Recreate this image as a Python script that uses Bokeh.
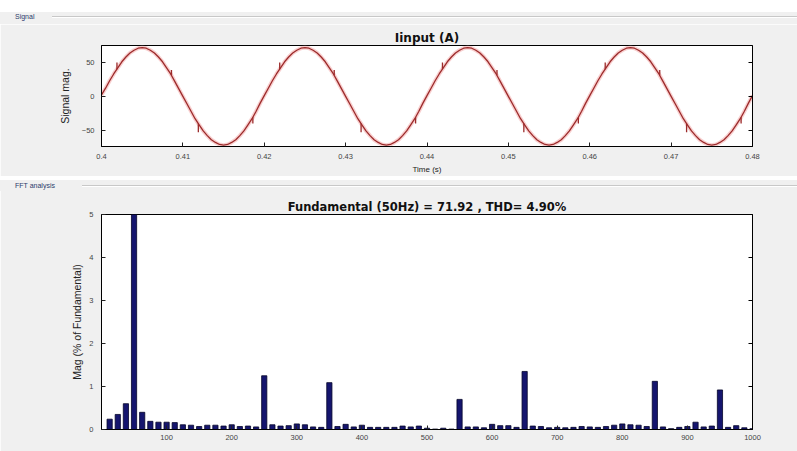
import numpy as np
from bokeh.plotting import figure
from bokeh.models import FixedTicker, LinearAxis, CustomJSTickFormatter, Div, Range1d
from bokeh.layouts import column
from bokeh.embed import file_html
from bokeh.resources import INLINE

# ---------------- data ----------------
# Input current samples (A), every 0.5 ms from 0.40 s to 0.48 s
signal_t_start, signal_t_end = 0.40, 0.48
signal_i = [
    2, 12, 23, 33, 42, 51, 58, 64, 68, 71, 72, 71, 68, 64, 58, 51, 42, 33, 22, 11,
    0, -11, -22, -33, -42, -51, -58, -64, -68, -71, -72, -71, -68, -64, -58, -51, -42, -33, -22, -10,
    1, 12, 23, 33, 42, 51, 58, 64, 68, 71, 72, 71, 68, 64, 58, 51, 42, 33, 22, 11,
    0, -11, -22, -33, -42, -51, -58, -64, -68, -71, -72, -71, -68, -64, -58, -51, -42, -33, -22, -10,
    1, 12, 23, 33, 42, 51, 58, 64, 68, 71, 72, 71, 68, 64, 58, 51, 42, 33, 22, 11,
    0, -11, -22, -33, -42, -51, -58, -64, -68, -71, -72, -71, -68, -64, -58, -51, -42, -33, -22, -10,
    1, 12, 23, 33, 42, 51, 58, 64, 68, 71, 72, 71, 68, 64, 58, 51, 42, 33, 22, 11,
    0, -11, -22, -33, -42, -51, -58, -64, -68, -71, -72, -71, -68, -64, -58, -51, -42, -33, -22, -10,
    1,
]
# commutation notches on the waveform
notch_t = [0.4019, 0.4086, 0.4119, 0.4186, 0.4219, 0.4286, 0.4319, 0.4386,
           0.4419, 0.4486, 0.4519, 0.4586, 0.4619, 0.4686, 0.4719, 0.4786]
notch_from = [40, 31, -40, -31, 40, 31, -40, -31, 40, 31, -40, -31, 40, 31, -40, -31]
notch_to = [50, 39, -53, -40, 50, 39, -53, -40, 50, 39, -53, -40, 50, 39, -53, -40]

time_ticks = [0.40, 0.41, 0.42, 0.43, 0.44, 0.45, 0.46, 0.47, 0.48]
signal_ticks = [-50, 0, 50]

# FFT spectrum (12.5 Hz resolution), magnitude in % of fundamental
fft_freq = [12.5, 25, 37.5, 50, 62.5, 75, 87.5, 100, 112.5, 125, 137.5, 150, 162.5, 175, 187.5, 200,
            212.5, 225, 237.5, 250, 262.5, 275, 287.5, 300, 312.5, 325, 337.5, 350, 362.5, 375, 387.5, 400,
            412.5, 425, 437.5, 450, 462.5, 475, 487.5, 500, 512.5, 525, 537.5, 550, 562.5, 575, 587.5, 600,
            612.5, 625, 637.5, 650, 662.5, 675, 687.5, 700, 712.5, 725, 737.5, 750, 762.5, 775, 787.5, 800,
            812.5, 825, 837.5, 850, 862.5, 875, 887.5, 900, 912.5, 925, 937.5, 950, 962.5, 975, 987.5, 1000]
fft_mag = [0.24, 0.35, 0.60, 100.0, 0.40, 0.19, 0.17, 0.17, 0.16, 0.11, 0.10, 0.07, 0.10, 0.10, 0.08, 0.11,
           0.07, 0.08, 0.06, 1.25, 0.11, 0.08, 0.09, 0.13, 0.11, 0.06, 0.05, 1.09, 0.07, 0.12, 0.06, 0.10,
           0.05, 0.05, 0.05, 0.05, 0.08, 0.06, 0.08, 0.03, 0.01, 0.03, 0.01, 0.70, 0.06, 0.06, 0.04, 0.12,
           0.09, 0.09, 0.05, 1.35, 0.08, 0.07, 0.04, 0.05, 0.04, 0.05, 0.07, 0.06, 0.05, 0.07, 0.10, 0.13,
           0.11, 0.10, 0.07, 1.12, 0.06, 0.02, 0.05, 0.07, 0.17, 0.06, 0.08, 0.92, 0.05, 0.09, 0.04, 0.02]
freq_ticks = [100, 200, 300, 400, 500, 600, 700, 800, 900, 1000]
mag_ticks = [0, 1, 2, 3, 4, 5]

FONT = "Liberation Sans"
TITLE_FONT = "DejaVu Sans"
PANEL = "#f0f0f0"
W = 797


def style_axes(p, xticks, yticks, xfmt=None):
    p.grid.visible = False
    for ax in p.axis:
        ax.major_tick_in = 4
        ax.major_tick_out = 0
        ax.minor_tick_line_color = None
        ax.axis_line_color = "black"
        ax.major_tick_line_color = "#222222"
        ax.major_label_text_font = FONT
        ax.major_label_text_font_size = "7.5px"
        ax.major_label_text_color = "#444444"
        ax.axis_label_text_font = FONT
        ax.axis_label_text_font_style = "normal"
        ax.axis_label_text_color = "#222222"
    xa = p.xaxis[0]
    ya = p.yaxis[0]
    xa.ticker = FixedTicker(ticks=xticks)
    ya.ticker = FixedTicker(ticks=yticks)
    if xfmt is not None:
        xa.formatter = xfmt
    blank = CustomJSTickFormatter(code="return ''")
    ra = LinearAxis(ticker=FixedTicker(ticks=yticks), formatter=blank,
                    major_tick_in=4, major_tick_out=0, minor_tick_line_color=None,
                    major_label_standoff=0, major_label_text_font_size="1px")
    p.add_layout(ra, "right")
    return xa, ya


def header(label, height, line_top):
    html = (
        f'<div style="position:relative;width:{W}px;height:{height}px;background:{PANEL};">'
        f'<span style="position:absolute;left:15px;top:{line_top-4}px;font-family:\'{FONT}\';'
        f'font-size:7px;color:#2b3b6b;">{label}</span>'
        f'<div style="position:absolute;left:{22 + 5*len(label)}px;right:0;top:{line_top}px;'
        f'border-top:1px solid #c8c8c8;border-bottom:1px solid #ffffff;"></div></div>'
    )
    return Div(text=html, width=W, height=height, margin=0)


def style_title(p, size):
    p.title.align = "center"
    p.title.text_font = TITLE_FONT
    p.title.text_font_size = size
    p.title.text_font_style = "bold"
    p.title.text_color = "#111111"
    p.title.standoff = 2


# ---------------- top: signal ----------------
p1 = figure(width=W, height=152, x_range=Range1d(0.40, 0.48), y_range=Range1d(-74, 75),
            output_backend="svg", toolbar_location=None,
            min_border_left=101, min_border_right=43, min_border_top=21, min_border_bottom=30,
            border_fill_color=PANEL, background_fill_color="white",
            outline_line_color="black", title="Iinput (A)", margin=0)
style_title(p1, "12px")

t = np.linspace(signal_t_start, signal_t_end, len(signal_i))
p1.line(t, signal_i, line_color="#f2a8a8", line_width=4, line_alpha=0.55)
p1.line(t, signal_i, line_color="#9c2b2b", line_width=1.3)
p1.segment(x0=notch_t, y0=notch_from, x1=notch_t, y1=notch_to, line_color="#9c2b2b", line_width=1.3)

x1a, y1a = style_axes(p1, time_ticks, signal_ticks,
                      xfmt=CustomJSTickFormatter(code="return tick.toFixed(2).replace(/0$/, '')"))
x1a.axis_label = "Time (s)"
x1a.axis_label_text_font_size = "8px"
x1a.axis_label_standoff = 3
x1a.major_label_standoff = 7
y1a.axis_label = "Signal mag."
y1a.axis_label_text_font_size = "10.5px"
y1a.axis_label_standoff = 8
y1a.major_label_standoff = 7

# ---------------- bottom: FFT ----------------
p2 = figure(width=W, height=261, x_range=Range1d(0, 1000), y_range=Range1d(0, 5),
            output_backend="svg", toolbar_location=None,
            min_border_left=101, min_border_right=45, min_border_top=24, min_border_bottom=22,
            border_fill_color=PANEL, background_fill_color="white",
            outline_line_color="black",
            title="Fundamental (50Hz) = 71.92 , THD= 4.90%", margin=0)
style_title(p2, "11.5px")

p2.vbar(x=fft_freq, top=fft_mag, width=8, bottom=0,
        fill_color="#15156e", line_color="#05052a", line_width=0.8)

x2a, y2a = style_axes(p2, freq_ticks, mag_ticks)
x2a.major_label_standoff = 5
y2a.axis_label = "Mag (% of Fundamental)"
y2a.axis_label_text_font_size = "10.5px"
y2a.axis_label_standoff = 3
y2a.major_label_standoff = 8

top_strip = Div(text=f'<div style="width:{W}px;height:12px;background:#ffffff;"></div>',
                width=W, height=12, margin=0)
sep = Div(text=f'<div style="width:{W}px;height:3px;background:#fafafa;border-top:1px solid #d6d6d6;'
               f'box-sizing:border-box;"></div>', width=W, height=3, margin=0)

layout = column(top_strip, header("Signal", 12, 4), p1, sep, header("FFT analysis", 11, 5), p2,
                spacing=0, margin=0)

open("out.html", "w").write(file_html(layout, INLINE))
